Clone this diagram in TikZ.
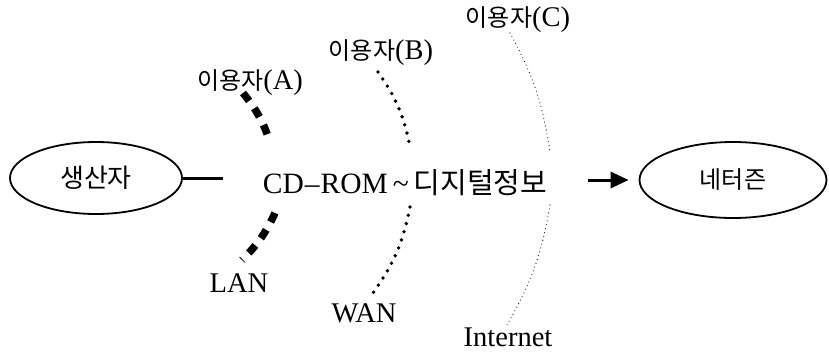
\documentclass[tikz,border=0pt]{standalone}
\usepackage{fontspec}
\setmainfont{Liberation Serif}
\newfontfamily\kr{Noto Sans CJK KR}
\usetikzlibrary{arrows.meta,shapes.geometric}

% Korean text at a given size
\newcommand\hk[2]{{\kr\fontsize{#1}{#1}\selectfont #2}}

\tikzset{
  party/.style={draw, ellipse, line width=1.8pt, inner sep=0pt},
  lbl/.style={inner sep=0pt, font=\fontsize{28.5}{30}\selectfont},
  lanline/.style={line width=7.5pt, dash pattern=on 10pt off 9pt},
  wanline/.style={line width=3.8pt, line cap=round, dash pattern=on 0pt off 8.5pt},
  netline/.style={line width=1.1pt, line cap=round, dash pattern=on 0pt off 4pt},
  feed/.style={line width=3pt},
  sendarrow/.style={line width=3pt, -{Triangle[length=18pt,width=16pt]}}
}

\begin{document}
\begin{tikzpicture}[x=1pt, y=-1pt]
\useasboundingbox (0,0) rectangle (829,351);

% producer and netizen
\node[party, minimum width=172pt, minimum height=72pt] (prod) at (96,178) {\hk{26}{생산자}};
\node[party, minimum width=187pt, minimum height=76pt] (ntz) at (733,180) {\hk{24}{네터즌}};

% central content
\node[inner sep=0pt, font=\fontsize{29.5}{31}\selectfont] (info) at (405,183)
  {CD\kern1pt--\kern1pt ROM\,\textasciitilde\,\hk{29}{디지털정보}};

% user / network labels
\node[lbl] (ua) at (250,83) {\hk{24}{이용자}(A)};
\node[lbl] (ub) at (381,53) {\hk{24}{이용자}(B)};
\node[lbl] (uc) at (518,20) {\hk{24}{이용자}(C)};
\node[lbl] (lan) at (239,283) {LAN};
\node[lbl] (wan) at (364,313) {WAN};
\node[lbl] (inet) at (508,337) {Internet};

% arc end points
\coordinate (a1) at (243,93);  \coordinate (a2) at (270,142);
\coordinate (a3) at (275,213); \coordinate (a4) at (242,260);
\coordinate (b1) at (378,72);  \coordinate (b2) at (410,147);
\coordinate (b3) at (410,207); \coordinate (b4) at (373,293);
\coordinate (c1) at (510,33);  \coordinate (c2) at (550,152);
\coordinate (c3) at (550,205); \coordinate (c4) at (507,325);

% LAN arc
\draw[lanline] (a1) to[bend left=10] (a2);
\draw[lanline] (a3) to[bend left=10] (a4);
% WAN arc
\draw[wanline] (b1) to[bend left=12] (b2);
\draw[wanline] (b3) to[bend left=12] (b4);
% Internet arc
\draw[netline] (c1) to[bend left=10] (c2);
\draw[netline] (c3) to[bend left=10] (c4);

% flow
\coordinate (feedend) at (223,178);
\draw[feed] (prod.east) -- (feedend);
\coordinate (sendstart) at (588,180);
\draw[sendarrow] (sendstart) -- ([xshift=-10pt]ntz.west);
\end{tikzpicture}
\end{document}
